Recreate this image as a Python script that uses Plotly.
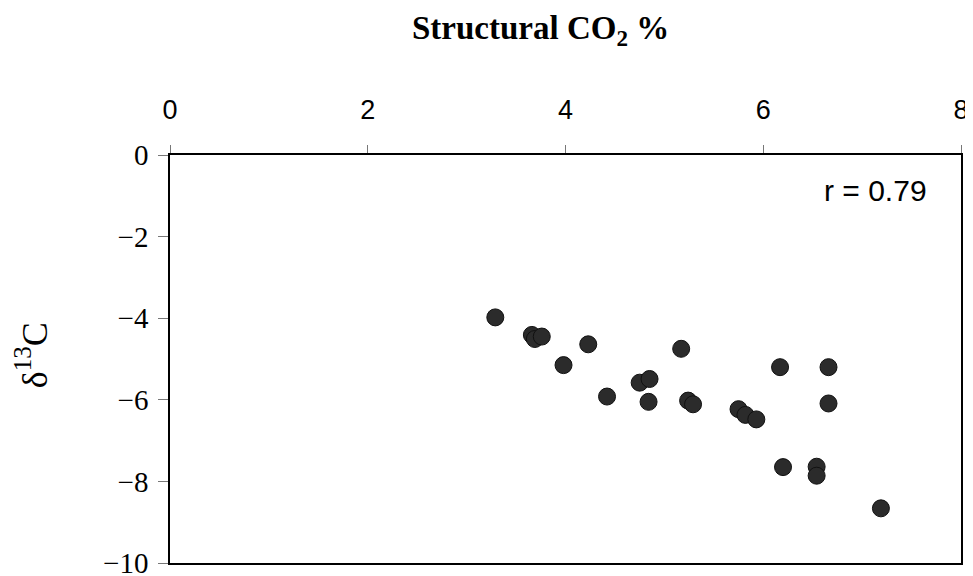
import plotly.graph_objects as go

# Data
structural_co2 = [3.29, 3.66, 3.69, 3.76, 3.98, 4.23, 4.42, 4.75, 4.85, 4.84,
                  5.17, 5.24, 5.29, 5.75, 5.82, 5.93, 6.17, 6.20, 6.54, 6.54,
                  6.66, 6.66, 7.19]
delta13c = [-3.98, -4.41, -4.51, -4.45, -5.15, -4.64, -5.92, -5.58, -5.49, -6.05,
            -4.75, -6.02, -6.11, -6.23, -6.37, -6.48, -5.20, -7.65, -7.64, -7.86,
            -5.20, -6.09, -8.66]

x_ticks = [0, 2, 4, 6, 8]
y_ticks = [0, -2, -4, -6, -8, -10]
r_label = "r = 0.79"
x_title = "<b>Structural CO<sub>2</sub> %</b>"
y_title = "δ<sup>13</sup>C"

fig = go.Figure()
fig.add_trace(go.Scatter(
    x=structural_co2, y=delta13c, mode="markers",
    marker=dict(size=17, color="#2b2b2b", line=dict(color="#111111", width=1)),
    showlegend=False, hoverinfo="x+y",
))

# page body has an 8px margin, so the figure is 8px smaller and margins shifted
fig.update_layout(
    width=965, height=568,
    margin=dict(l=162, r=12, t=147, b=13),
    paper_bgcolor="white", plot_bgcolor="white",
    xaxis=dict(
        range=[0, 8], side="top", tickvals=x_ticks,
        ticks="outside", ticklen=8, tickcolor="#777", tickwidth=1,
        showline=True, linecolor="black", linewidth=1.5, mirror=True,
        showgrid=False, zeroline=False, automargin=False,
        tickfont=dict(family="Liberation Sans, Arial", size=27, color="black"),
        ticklabelstandoff=15, ticklabeloverflow="allow",
    ),
    yaxis=dict(
        range=[-10, 0], tickvals=y_ticks,
        ticks="outside", ticklen=10, tickcolor="#777", tickwidth=1,
        showline=True, linecolor="black", linewidth=1.5, mirror=True,
        showgrid=False, zeroline=False, automargin=False,
        tickfont=dict(family="Liberation Serif, Times New Roman", size=29, color="black"),
        ticklabelstandoff=4, ticklabeloverflow="allow",
    ),
    annotations=[
        dict(text=x_title, xref="paper", yref="paper", x=0.469, y=1.306,
             showarrow=False, xanchor="center", yanchor="middle",
             font=dict(family="Liberation Serif, Times New Roman", size=33, color="black")),
        dict(text=y_title, xref="paper", yref="paper", x=-0.174, y=0.51,
             showarrow=False, xanchor="center", yanchor="middle", textangle=-90,
             font=dict(family="Liberation Serif, Times New Roman", size=36, color="black")),
        dict(text=r_label, xref="x", yref="y", x=7.14, y=-0.86,
             showarrow=False, xanchor="center", yanchor="middle",
             font=dict(family="Liberation Sans, Arial", size=30, color="black")),
    ],
)

fig.write_html("out.html")
